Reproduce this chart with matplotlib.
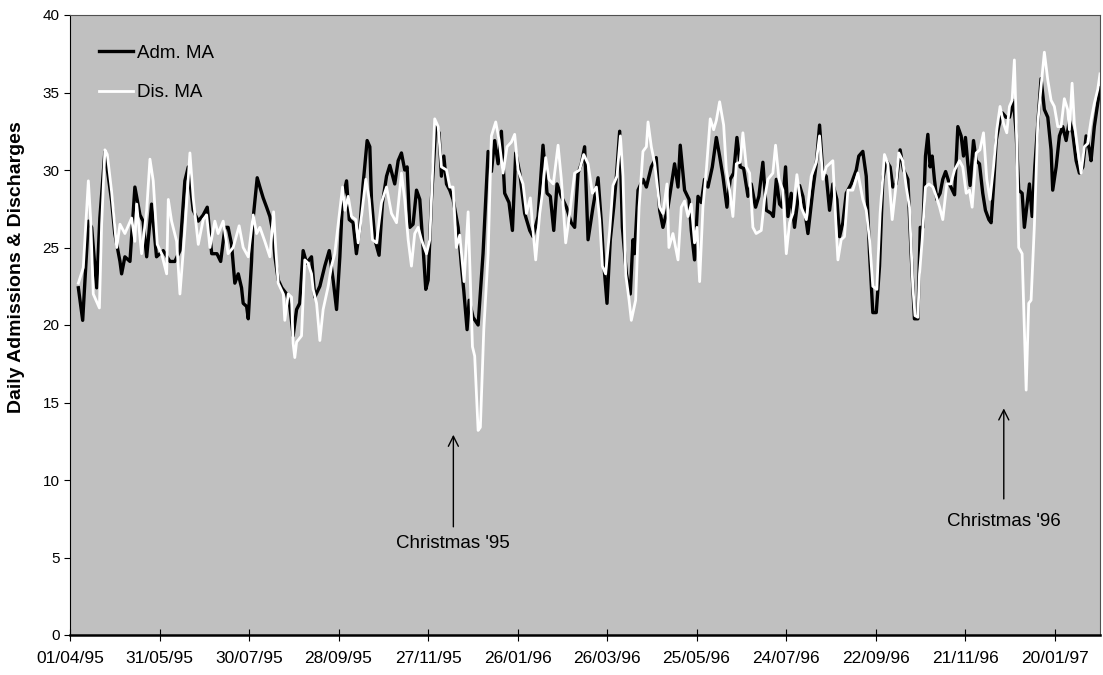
import pandas as pd
import numpy as np
import matplotlib
matplotlib.use('Agg')
import matplotlib.pyplot as plt
import matplotlib.dates as mdates
from matplotlib.ticker import FixedLocator

plt.rcParams['font.family'] = ['Liberation Sans', 'DejaVu Sans']

#       1       Data, day offsets from 01/04/95
start = pd.Timestamp('1995-04-01')

adm_days = [5.6, 8.5, 12.3, 14.5, 17.9, 20.0, 23.4, 27.9, 30.0, 33.5, 34.6, 36.8, 40.2, 43.5, 46.9, 49.0,
            51.4, 54.7, 58.0, 62.5, 67.0, 70.3, 73.7, 77.0, 79.3, 82.6, 86.0, 89.3, 92.0, 95.0, 98.5,
            101.0, 103.9, 106.0, 108.3, 110.5, 112.8, 115.0, 116.1, 118.4, 119.5, 121.7, 122.8, 125.5,
            127.3, 129.5, 131.8, 134.0, 136.2, 137.4, 139.6, 142.0, 145.2, 147.4, 149.6, 151.9, 154.0,
            156.3, 158.6, 161.9, 164.1, 167.5, 170.8, 173.8, 176.4, 178.7, 180.9, 182.7, 185.4, 187.2,
            189.8, 192.0, 194.3, 196.5, 199.2, 201.0, 202.1, 204.4, 207.2, 209.5, 212.2, 214.4, 217.7,
            220.0, 222.2, 224.4, 226.0, 227.8, 230.0, 232.3, 234.5, 236.7, 238.5, 240.1, 242.3, 245.2,
            247.4, 249.0, 250.6, 252.4, 254.6, 256.8, 260.2, 262.4, 264.0, 266.2, 267.6, 270.2, 273.6,
            276.9, 280.3, 282.5, 284.7, 287.0, 289.2, 291.4, 294.3, 296.6, 298.8, 301.5, 304.8, 308.2,
            310.4, 313.8, 317.1, 319.8, 322.0, 324.3, 326.5, 329.4, 332.8, 336.0, 338.3, 340.6, 342.8,
            345.0, 347.3, 350.6, 354.0, 356.2, 357.8, 360.0, 362.2, 364.5, 366.3, 368.5, 370.3, 373.0,
            375.6, 377.4, 378.5, 380.8, 384.1, 386.4, 389.7, 393.0, 395.3, 397.5, 400.9, 405.3, 407.6,
            409.1, 412.0, 415.0, 416.5, 418.7, 421.0, 423.2, 425.4, 427.7, 430.6, 433.3, 435.5, 437.7,
            440.4, 442.6, 444.9, 447.1, 449.3, 451.6, 454.5, 456.7, 459.6, 461.8, 464.5, 466.8, 470.1,
            471.5, 473.5, 475.7, 477.5, 479.7, 481.3, 483.5, 485.7, 489.1, 491.3, 494.7, 498.0, 500.3,
            502.5, 504.7, 507.0, 509.2, 511.4, 514.1, 515.9, 518.1, 520.4, 523.7, 527.1, 528.8, 531.5,
            533.8, 536.0, 538.2, 540.5, 542.7, 544.9, 547.2, 549.8, 551.6, 553.8, 556.5, 558.8, 561.7,
            563.9, 566.1, 568.4, 570.0, 571.8, 573.5, 575.1, 576.6, 578.0, 579.5, 581.1, 583.3, 585.1,
            587.0, 589.6, 593.0, 595.2, 597.4, 599.0, 600.3, 601.9, 603.4, 605.7, 607.5, 609.7, 611.9,
            613.7, 616.0, 617.5, 619.1, 620.9, 622.6, 624.9, 627.5, 629.8, 632.5, 634.3, 636.0, 638.3,
            639.8, 641.4, 643.2, 645.0, 646.8, 648.8, 651.0, 653.2, 655.5, 657.7, 658.8, 661.1, 663.3,
            665.5, 667.8, 670.0, 672.2, 674.5, 676.7, 679.0, 681.2, 683.4, 684.5, 686.7, 689.0, 690.5]
adm_vals = [22.4, 20.3, 26.7, 26.3, 22.4, 26.9, 31.2, 28.0, 25.9, 24.1, 23.3, 24.4, 24.1, 28.9, 27.1, 26.7,
            24.4, 27.8, 24.4, 24.8, 24.1, 24.1, 24.8, 29.3, 30.2, 27.4, 26.7, 27.1, 27.6, 24.6, 24.6,
            24.1, 26.3, 26.3, 25.2, 22.7, 23.3, 22.4, 21.4, 21.2, 20.4, 24.1, 26.9, 29.5,
            28.9, 28.2, 27.6, 27.0, 25.9, 24.4, 22.9, 22.4, 22.0, 21.2, 19.3, 21.0, 21.4,
            24.8, 24.0, 24.4, 21.8, 22.5, 23.8, 24.8, 22.9, 21.0, 24.4, 28.1, 29.3, 26.8,
            26.6, 24.6, 26.3, 29.1, 31.9, 31.5, 28.1, 25.5, 24.5, 27.9, 29.6, 30.3, 29.1,
            30.6, 31.1, 30.0, 30.2, 26.3, 26.5, 28.7, 28.1, 25.0, 22.3, 22.9, 28.1, 32.8,
            32.4, 29.6, 30.9, 29.1, 28.7, 28.1, 26.3, 23.8, 22.2, 19.7, 21.6, 20.5, 20.0,
            24.6, 31.2, 29.9, 31.9, 30.4, 32.5, 28.5, 27.9, 26.1, 31.1, 29.8, 27.2, 26.1,
            25.7, 27.0, 31.6, 28.5, 28.3, 26.1, 29.1, 28.3, 27.6, 26.6, 26.3, 29.8, 30.4,
            31.5, 25.5, 27.6, 29.5, 26.6, 24.0, 21.4, 25.5, 27.6, 29.6, 32.5, 26.3, 23.3,
            22.0, 25.5, 24.6, 28.7, 29.4, 28.9, 30.2, 30.8, 27.4, 26.3, 27.6, 30.4, 28.9,
            31.6, 28.7, 28.1, 26.1, 24.2, 28.3, 27.9, 29.4, 28.9, 30.2, 32.1, 30.9, 29.6,
            27.6, 29.4, 29.8, 32.1, 30.2, 30.1, 28.3, 29.1, 27.6, 28.3, 30.5, 27.4, 27.2,
            27.0, 29.4, 27.8, 27.6, 30.2, 27.0, 28.5, 26.3, 29.0, 28.3, 25.9, 28.7, 30.4,
            32.9, 29.8, 29.6, 27.4, 29.1, 28.1, 25.7, 26.6, 28.5, 29.1, 30.0, 30.9, 31.2,
            29.6, 24.6, 20.8, 20.8, 23.8, 29.4, 30.6, 30.2, 28.9, 29.1, 31.3, 30.0, 29.4,
            24.6, 20.4, 20.4, 26.3, 26.3, 30.9, 32.3, 30.2, 30.9, 29.4, 28.1, 28.5, 29.4,
            29.9, 29.1, 28.4, 32.8, 32.2, 30.9, 32.1, 30.4, 29.0, 31.9, 30.6, 30.4, 28.5,
            27.4, 26.8, 26.6, 28.9, 31.9, 32.8, 33.7, 33.4, 33.4, 34.5, 32.4, 28.7, 28.5,
            26.3, 27.6, 29.1, 27.0, 30.2, 33.0, 35.9, 33.9, 33.4, 31.3, 28.7, 30.2, 32.2,
            32.8, 31.9, 33.2, 32.4, 30.6, 29.8, 30.2, 32.2, 31.3, 30.6, 32.8, 34.3, 35.3]

dis_days = [5.6, 8.9, 12.3, 13.8, 15.6, 17.4, 19.7, 21.2, 23.4, 25.0, 27.9, 31.3, 33.5, 36.8, 41.3, 43.5,
            44.7, 48.0, 51.4, 53.6, 55.8, 58.5, 61.4, 64.8, 65.9, 68.1, 71.5, 73.7, 77.0, 80.4, 82.6,
            86.0, 89.3, 91.6, 93.8, 97.1, 99.3, 102.7, 106.0, 109.4, 113.4, 116.1, 119.5, 122.8, 125.1,
            127.3, 130.6, 134.0, 136.5, 138.0, 139.6, 143.0, 144.0, 146.3, 148.5, 149.6, 150.7, 151.9,
            155.2, 157.4, 159.5, 161.9, 163.0, 165.3, 167.5, 169.7, 173.1, 175.3, 177.5, 179.8, 182.7,
            184.3, 186.5, 188.7, 191.6, 193.2, 195.4, 198.3, 200.6, 202.8, 205.5, 208.8, 212.2, 215.5,
            218.9, 222.2, 224.4, 226.7, 228.9, 231.1, 233.4, 235.6, 239.0, 241.2, 244.5, 246.8, 249.0,
            252.4, 254.6, 256.8, 259.0, 261.3, 264.2, 266.9, 269.8, 271.3, 273.6, 275.1, 277.4, 280.3,
            282.5, 285.4, 287.7, 290.3, 293.0, 295.9, 298.1, 300.4, 303.7, 306.0, 308.6, 310.4, 312.2,
            314.9, 316.7, 318.9, 321.1, 324.0, 327.2, 329.4, 332.3, 335.0, 338.3, 341.6, 344.4, 347.3,
            350.2, 352.9, 355.1, 356.9, 359.1, 361.8, 364.0, 366.7, 369.0, 370.7, 372.5, 374.8, 376.3,
            379.2, 381.5, 384.1, 386.4, 387.5, 389.7, 392.0, 395.3, 397.5, 400.2, 401.5, 404.2, 407.6,
            409.8, 412.0, 414.3, 416.5, 418.7, 420.3, 422.1, 424.3, 426.6, 429.2, 431.5, 433.3, 435.5,
            438.2, 440.0, 442.2, 444.4, 446.7, 449.3, 451.1, 453.4, 455.6, 457.8, 460.0, 463.4, 465.6,
            467.9, 471.2, 473.0, 475.3, 477.9, 480.2, 482.4, 484.6, 487.3, 490.2, 493.6, 496.9, 500.3,
            502.5, 504.7, 507.0, 509.2, 511.4, 513.2, 514.8, 517.0, 519.2, 521.5, 524.8, 528.2, 531.5,
            533.8, 536.0, 538.2, 540.9, 543.1, 546.0, 548.3, 551.2, 553.4, 555.6, 558.3, 560.6, 562.8,
            565.0, 566.5, 568.4, 569.5, 571.3, 573.5, 575.8, 578.5, 580.7, 583.0, 585.1, 587.8, 590.5,
            593.0, 596.3, 598.5, 600.8, 603.0, 604.8, 607.5, 610.0, 612.4, 614.6, 616.8, 619.1, 621.3,
            623.5, 625.8, 628.0, 629.8, 631.6, 633.1, 634.7, 636.0, 638.3, 639.8, 641.0, 642.7, 644.3,
            646.5, 648.8, 651.0, 653.2, 655.5, 657.7, 659.9, 662.2, 664.4, 666.6, 668.8, 670.0, 671.8,
            673.3, 675.6, 677.8, 680.0, 682.2, 684.5, 686.7, 689.0, 690.5]
dis_vals = [22.7, 23.7, 29.3, 26.9, 22.0, 21.6, 21.1, 26.5, 31.3, 31.0, 28.6, 25.0, 26.5, 25.9, 26.9, 25.4,
            27.8, 24.6, 27.4, 30.7, 29.3, 25.2, 24.6, 23.3, 28.1, 26.7, 25.4, 22.0, 26.1, 31.1, 28.2,
            25.2, 26.8, 27.1, 25.0, 26.7, 25.9, 26.7, 24.6, 25.0, 26.4, 25.0, 24.4, 27.1, 25.9,
            26.3, 25.4, 24.4, 27.3, 24.8, 22.7, 22.0, 20.3, 22.0, 21.8, 18.8, 17.9, 18.9,
            19.3, 24.2, 24.0, 23.3, 22.3, 21.4, 19.0, 21.0, 22.5, 23.8, 24.6, 26.5, 28.9,
            27.4, 28.3, 27.0, 26.8, 25.3, 27.0, 29.4, 28.1, 25.5, 25.3, 27.9, 28.9, 27.2,
            26.6, 29.8, 28.1, 25.5, 23.8, 25.9, 26.3, 25.5, 24.6, 25.5, 33.3, 32.8, 30.2,
            30.0, 28.9, 28.9, 25.0, 25.8, 22.8, 27.3, 18.6, 18.0, 13.2, 13.4, 19.7, 24.6,
            32.2, 33.1, 31.9, 29.8, 31.5, 31.8, 32.3, 30.0, 29.1, 27.2, 28.2, 26.1, 24.2,
            27.2, 28.5, 30.8, 29.4, 29.1, 31.6, 29.4, 25.3, 27.2, 29.8, 30.0, 31.0, 30.4,
            28.5, 28.9, 26.8, 23.8, 23.3, 26.1, 29.0, 29.6, 32.2, 29.6, 23.3, 21.6, 20.3,
            21.6, 27.6, 31.2, 31.5, 33.1, 31.5, 30.4, 27.6, 27.2, 29.1, 25.0, 25.9, 24.2,
            27.6, 28.0, 27.0, 27.8, 25.3, 26.3, 22.8, 27.6, 30.0, 33.3, 32.6, 33.2, 34.4,
            32.9, 30.0, 28.7, 27.0, 30.4, 30.5, 32.4, 30.2, 29.8, 26.3, 25.9, 26.1, 28.1,
            29.4, 29.8, 31.6, 29.4, 28.7, 24.6, 26.6, 27.2, 29.7, 27.6, 26.8, 29.6, 30.5,
            32.2, 29.4, 30.2, 30.4, 30.6, 27.0, 24.2, 25.5, 25.7, 28.7, 28.7, 29.8, 28.1,
            27.4, 25.5, 22.5, 22.3, 27.2, 31.0, 30.4, 26.8, 28.7, 31.1, 30.6, 28.9, 27.6,
            22.5, 20.6, 20.5, 23.3, 25.5, 28.9, 29.1, 28.9, 28.3, 27.6, 26.8, 29.1, 29.1,
            30.0, 30.6, 30.2, 28.5, 28.7, 27.6, 31.1, 31.3, 32.4, 29.4, 28.1, 30.2, 32.6,
            34.1, 33.0, 32.4, 34.1, 34.5, 37.1, 31.9, 25.0, 24.6, 19.7, 15.8, 21.4, 21.6,
            26.4, 33.0, 35.4, 37.6, 35.8, 34.5, 34.1, 32.8, 32.8, 34.6, 33.9, 32.6, 35.6,
            33.0, 31.3, 29.8, 31.5, 31.7, 33.2, 34.3, 35.2, 36.2]

# Annotations: (label, day offset, arrow head, arrow tail, text y)
notes = [("Christmas '95", 257, 13.1, 6.8, 5.9),
         ("Christmas '96", 626, 14.8, 8.6, 7.3)]

adm_dates = start + pd.to_timedelta(adm_days, unit='D')
dis_dates = start + pd.to_timedelta(dis_days, unit='D')

#       2       Plot
fig = plt.figure(figsize=(11.03, 6.75), dpi=100)
ax = fig.add_axes([70 / 1103, 1 - 635 / 675, 1030 / 1103, 620 / 675])
ax.set_facecolor('#C0C0C0')

ax.plot(adm_dates, adm_vals, color='black', lw=2.4, label='Adm. MA')
ax.plot(dis_dates, dis_vals, color='white', lw=2.0, label='Dis. MA')

ax.set_xlim(start, start + pd.Timedelta(days=690.5))
ax.set_ylim(0, 40)
ax.set_yticks(np.arange(0, 41, 5))
ax.xaxis.set_major_locator(FixedLocator(mdates.date2num(pd.date_range(start, periods=12, freq='60D'))))
ax.xaxis.set_major_formatter(mdates.DateFormatter('%d/%m/%y'))
ax.tick_params(axis='y', direction='out', length=4.5, width=0.8, labelsize=11, pad=3)
ax.tick_params(axis='x', direction='inout', length=8, width=0.8, labelsize=12.5, pad=7.5)

for side in ['left', 'bottom']:
    ax.spines[side].set_color('black')
ax.spines['bottom'].set_linewidth(1.8)
for side in ['top', 'right']:
    ax.spines[side].set_color('#505050')

ax.set_ylabel('Daily Admissions & Discharges', fontsize=14, fontweight='bold')
ax.yaxis.set_label_coords(-0.0437, 0.594)

for label, day, head, tail, ty in notes:
    d = start + pd.Timedelta(days=day)
    ax.annotate('', xy=(d, head), xytext=(d, tail),
                arrowprops=dict(arrowstyle='->', lw=1, color='black', mutation_scale=18))
    ax.text(d, ty, label, ha='center', va='center', fontsize=13.5)

ax.legend(loc='upper left', bbox_to_anchor=(0.012, 0.979), frameon=False, fontsize=13.5,
          handlelength=1.8, handletextpad=0.2, labelspacing=1.18)

plt.savefig('out.png', dpi=100)
